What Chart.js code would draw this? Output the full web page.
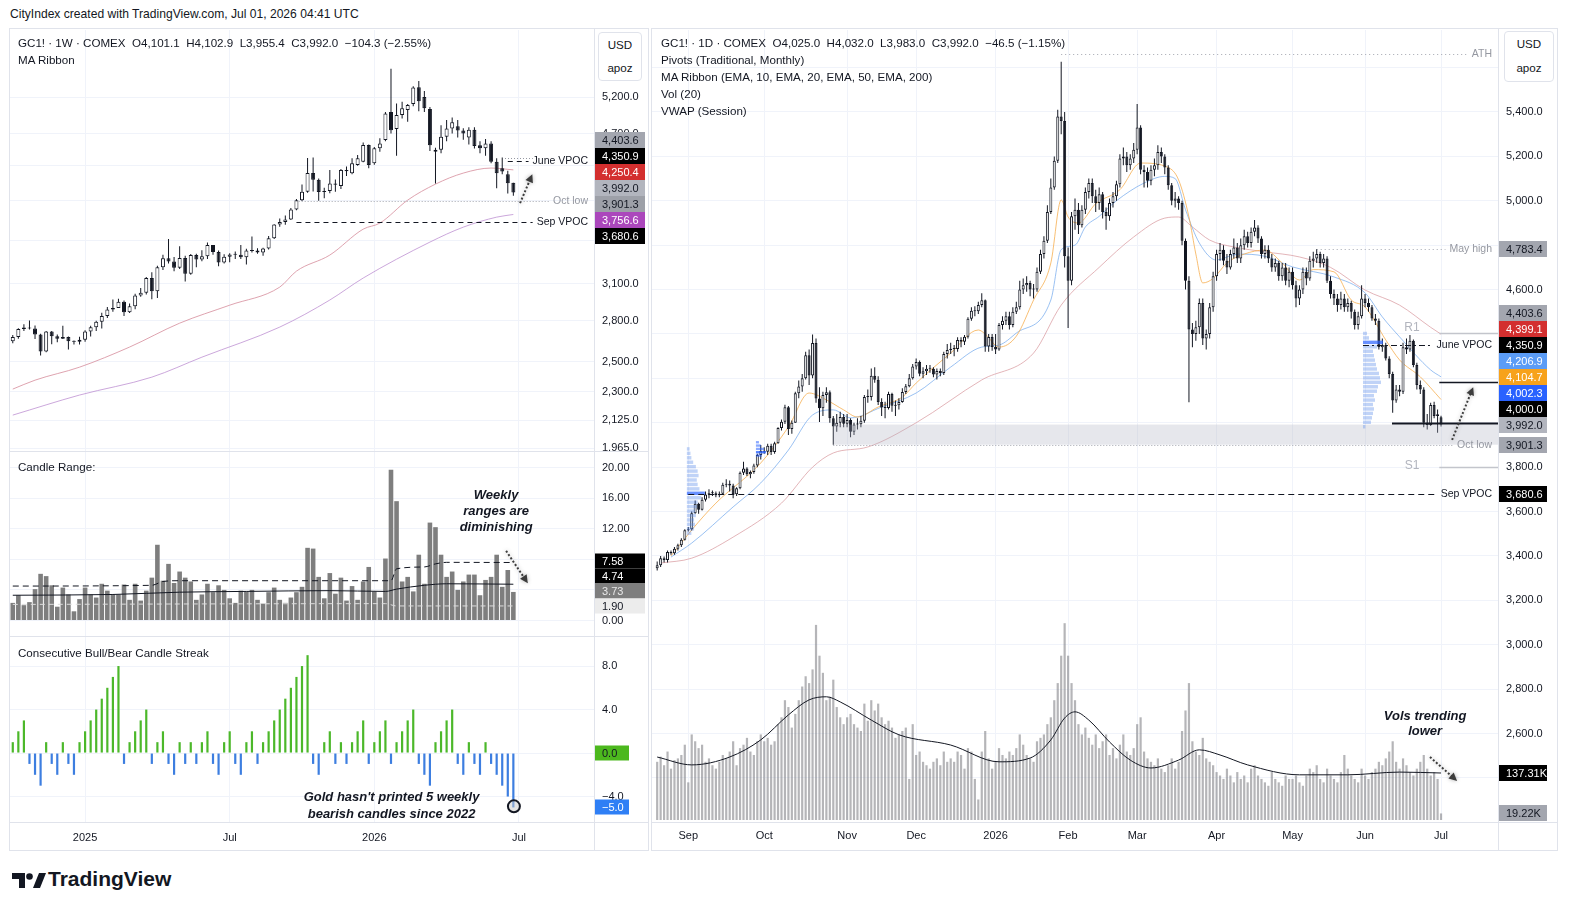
<!DOCTYPE html>
<html>
<head>
<meta charset="utf-8">
<script src="https://cdn.jsdelivr.net/npm/chart.js@4.4.1/dist/chart.umd.min.js"></script>
<style>
  body { margin:0; background:#fff; width:1569px; height:911px; overflow:hidden; position:relative;
         font-family:"Liberation Sans", Arial, sans-serif; color:#131722; }
  canvas { position:absolute; }
  .t { position:absolute; white-space:pre; font-size:11.6px; line-height:17px; }
  .ln { position:absolute; background:#e0e3eb; }
  .unit { position:absolute; border:1px solid #e0e3eb; border-radius:4px; background:#fff; font-size:11.6px;
          text-align:center; line-height:23px; box-sizing:border-box; padding-top:0px; }
</style>
</head>
<body>
<div class="t" style="left:10px;top:6px;font-size:12.1px;">CityIndex created with TradingView.com, Jul 01, 2026 04:41 UTC</div>

<canvas id="cP" width="638" height="421" style="left:10px;top:30px"></canvas>
<canvas id="cR" width="638" height="184" style="left:10px;top:452px"></canvas>
<canvas id="cS" width="638" height="211" style="left:10px;top:637px"></canvas>
<canvas id="cD" width="905" height="818" style="left:652px;top:30px"></canvas>

<!-- frames -->
<div class="ln" style="left:9px;top:28px;width:640px;height:1px"></div>
<div class="ln" style="left:9px;top:850px;width:640px;height:1px"></div>
<div class="ln" style="left:9px;top:28px;width:1px;height:823px"></div>
<div class="ln" style="left:648px;top:28px;width:1px;height:823px"></div>
<div class="ln" style="left:594px;top:28px;width:1px;height:823px"></div>
<div class="ln" style="left:9px;top:451px;width:640px;height:1px"></div>
<div class="ln" style="left:9px;top:636px;width:640px;height:1px"></div>
<div class="ln" style="left:9px;top:822px;width:640px;height:1px"></div>

<div class="ln" style="left:651px;top:28px;width:907px;height:1px"></div>
<div class="ln" style="left:651px;top:850px;width:907px;height:1px"></div>
<div class="ln" style="left:651px;top:28px;width:1px;height:823px"></div>
<div class="ln" style="left:1557px;top:28px;width:1px;height:823px"></div>
<div class="ln" style="left:1498px;top:28px;width:1px;height:823px"></div>
<div class="ln" style="left:651px;top:822px;width:907px;height:1px"></div>

<div class="unit" style="left:598px;top:32px;width:44px;height:49px;">USD<br>apoz</div>
<div class="unit" style="left:1504px;top:31px;width:50px;height:51px;line-height:24px;">USD<br>apoz</div>

<div class="t" style="left:18px;top:34px;">GC1! · 1W · COMEX  O4,101.1  H4,102.9  L3,955.4  C3,992.0  −104.3 (−2.55%)
MA Ribbon</div>
<div class="t" style="left:18px;top:458px;">Candle Range:</div>
<div class="t" style="left:18px;top:644px;">Consecutive Bull/Bear Candle Streak</div>
<div class="t" style="left:661px;top:34px;">GC1! · 1D · COMEX  O4,025.0  H4,032.0  L3,983.0  C3,992.0  −46.5 (−1.15%)
Pivots (Traditional, Monthly)
MA Ribbon (EMA, 10, EMA, 20, EMA, 50, EMA, 200)
Vol (20)
VWAP (Session)</div>

<svg style="position:absolute;left:12px;top:872px" width="34" height="17" viewBox="0 0 34 17">
  <path d="M0 1h13v15H7V7H0z" fill="#131722"/><circle cx="17.5" cy="4.5" r="3.3" fill="#131722"/>
  <path d="M21 16l6-15h7l-6 15z" fill="#131722"/>
</svg>
<div style="position:absolute;left:48px;top:867px;font-weight:bold;font-size:21px;">TradingView</div>

<script>
// ---------- weekly data (Oct 7 2024 .. Jun 29 2026) ----------
const wO = [2645,2676,2736,2746,2740,2694,2570,2716,2681,2663, 2675,2645,2640,2655,2717,2748,2790,2835,2887,2900,
  2949,2865,2914,3001,3025,3150,3037,3245,3328,3298, 3241,3330,3187,3357,3315,3346,3452,3385,3288,3342,
  3363,3359,3336,3396,3400,3380,3418,3516,3654,3680, 3705,3809,3908,4000,4213,4137,3997,4009,4094,4065,
  4250,4211,4309,4348,4553,4329,4512,4616,4990,4760, 4950,5016,5100,5345,5200,5030,4470,4495,4660,4768,
  4795,4740,4650,4750,4550,4512,4574,4348,4270,4200, 4101.1];
const wH = [2690,2742,2772,2801,2762,2700,2721,2721,2694,2760, 2680,2650,2677,2726,2760,2798,2862,2907,2968,2974,
  2960,2936,3017,3065,3160,3201,3260,3360,3509,3340, 3440,3350,3366,3370,3403,3476,3453,3400,3365,3375,
  3390,3451,3416,3534,3420,3425,3540,3656,3715,3745, 3824,3922,4081,4392,4398,4150,4045,4250,4140,4260,
  4290,4390,4430,4584,4560,4530,4640,4990,5626,5110, 5133,5100,5360,5436,5290,5060,4520,4810,4879,4913,
  4880,4770,4783,4783,4600,4630,4600,4390,4400,4240, 4102.9];
const wL = [2630,2662,2720,2731,2660,2541,2565,2622,2636,2660, 2585,2620,2620,2640,2680,2720,2740,2820,2870,2900,
  2835,2860,2890,2990,3010,2970,2980,3220,3280,3210, 3230,3120,3180,3245,3300,3320,3360,3255,3280,3290,
  3320,3320,3270,3380,3370,3350,3410,3510,3630,3650, 3700,3800,3900,3990,4004,3901.3,3930,3985,4000,4030,
  4180,4200,4300,4340,4270,4310,4470,4600,4700,4420, 4902,4856,5070,5000,4990,4480,4093,4450,4600,4700,
  4650,4620,4560,4510,4450,4420,4330,4040,4200,3980, 3955.4];
const wC = [2676,2736,2746,2740,2694,2570,2716,2681,2663,2675, 2645,2640,2655,2717,2748,2790,2835,2887,2900,2949,
  2865,2914,3001,3025,3150,3037,3245,3328,3298,3241, 3330,3187,3357,3315,3346,3452,3385,3288,3342,3363,
  3359,3336,3400,3400,3380,3418,3516,3654,3680,3705, 3809,3908,4000,4213,4137,3997,4009,4094,4080,4250,
  4235,4329,4389,4553,4309,4512,4574,4970,4745,4950, 5040,5086,5340,5140,5040,4550,4495,4660,4768,4850,
  4740,4700,4750,4540,4512,4574,4348,4211,4232,4096, 3992.0];
const wRange = [2.3,3.3,2.0,2.4,4.1,6.1,5.8,4.6,1.8,4.3, 3.4,1.2,2.8,4.3,3.4,3.0,4.8,3.9,3.4,3.4,
  4.7,2.7,4.8,2.6,3.9,5.6,9.9,5.2,7.4,4.9, 6.4,5.6,5.1,2.7,3.4,4.8,3.7,4.6,4.0,2.9,
  2.3,3.9,3.8,4.0,2.7,2.2,3.7,4.3,2.7,2.3, 3.0,3.7,4.4,9.5,9.4,5.7,2.9,6.2,3.5,5.6,
  2.6,4.5,2.7,5.1,7.0,3.8,3.0,8.1,19.7,15.6, 5.1,5.7,3.8,8.6,4.8,12.8,12.2,8.6,5.7,6.4,
  4.0,5.1,6.0,6.0,3.3,5.3,5.7,8.6,4.4,6.6, 3.73];
const wStreak = [1,2,3,-1,-2,-3,1,-1,-2,1, -1,-2,1,2,3,4,5,6,7,8,
  -1,1,2,3,4,-1,1,2,-1,-2, 1,-1,1,-1,1,2,-1,-2,1,2,
  -1,-2,1,2,-1,1,2,3,4,5, 6,7,8,9,-1,-2,1,2,-1,1,
  -1,1,2,3,-1,1,2,3,-1,1, 2,3,4,-1,-2,-3,1,2,3,4,
  -1,-2,1,-1,-2,1,-1,-2,-3,-4, -5];
// MA ribbon read at a few weeks: [week index, value]
const wMaUpper = [[0,2316],[4,2374],[12,2461],[21,2602],[30,2780],[39,2922],[48,3072],[51,3211],[57,3357],
  [63,3607],[66,3668],[71,3909],[76,4086],[81,4213],[86,4272],[90,4250.4]];
const wMaLower = [[0,2155],[12,2278],[25,2394],[34,2530],[48,2750],[57,2964],[63,3150],[75,3480],[81,3627],
  [87,3729],[90,3756.6]];
const rangeHi = [[0,4.5],[25,4.6],[27,5.1],[30,5.2],[68,5.2],[69,6.75],[74,7.0],[76,7.4],[78,7.6],[90,7.58]];
const rangeMid = [[0,3.3],[18,3.4],[30,3.7],[42,3.8],[57,3.9],[67,3.8],[69,4.1],[74,4.6],[78,4.8],[90,4.74]];
const rangeLo = [[0,2.1],[67,2.2],[69,1.9],[90,1.9]];
const weekTickIdx = [13,39,65,91];
const weekTickText = ['2025','Jul','2026','Jul'];
const leftPriceTicks = [5200,4700,4300,3900,3500,3100,2800,2500,2300,2125,1965];
const leftPriceHidden = [4300,3900,3500];

// ---------- daily data (Aug 19 2025 .. Jul 1 2026) ----------
const dO = [3345,3358,3390,3382,3418,3412,3433,3448,3473,
  3516,3520,3592,3635,3608,3653,3677,3682,3683,3673,3680,3721,3725,3717,3678,3705,3775,3794,3768,3778,3808,3855,
  3873,3870,3897,3868,3908,3976,4005,4070,3972,4000,4133,4163,4201,4304,4213,4359,4109,4065,4125,4137,4020,3983,4000,4026,
  3996,4013,3960,3992,3993,4009,4116,4116,4212,4194,4094,4069,4066,4130,4077,4079,4094,4139,4164,4200,
  4254,4274,4221,4232,4243,4243,4218,4233,4224,4310,4328,4334,4332,4373,4365,4387,4469,4505,4502,4530,4552,4344,4386,
  4341,4330,4440,4460,4480,4440,4500,4520,4600,4620,4630,4600,4600,4680,4760,4820,4950,5060,5180,5380,5360,
  4750,4640,4930,4960,4890,4960,5040,5080,5020,4990,5030,4950,4930,4990,5020,5075,5190,5200,5160,5190,
  5230,5330,5140,5130,5090,5140,5160,5220,5200,5150,5070,5000,5010,4990,4820,4640,4420,4400,4430,4540,4380,4400,4520,
  4660,4760,4780,4730,4700,4760,4790,4740,4800,4840,4810,4860,4880,4830,4760,4780,4740,4700,4720,4660,4700,4640,
  4680,4620,4560,4600,4680,4650,4730,4740,4760,4720,4740,4640,4580,4560,4530,4560,4520,4540,4500,4440,4480,
  4560,4540,4520,4470,4460,4340,4350,4290,4220,4100,4150,4140,4340,4330,4370,4260,4170,4150,4000,3990,4080,4030,
  4025];
const dH = [3375,3400,3398,3425,3425,3440,3455,3480,3520,
  3530,3600,3650,3640,3665,3690,3700,3695,3690,3690,3730,3745,3740,3725,3710,3780,3824,3800,3785,3815,3860,3900,
  3890,3905,3905,3915,3980,4015,4081,4075,4010,4140,4190,4220,4320,4330,4398,4380,4160,4140,4160,4145,4030,4040,4050,4040,
  4040,4020,4000,4020,4030,4125,4150,4245,4250,4210,4110,4095,4140,4135,4100,4110,4155,4175,4220,4265,
  4290,4280,4250,4260,4260,4250,4245,4245,4320,4355,4360,4350,4385,4385,4395,4475,4520,4525,4545,4584,4555,4400,4400,
  4400,4450,4480,4500,4500,4520,4545,4640,4650,4660,4640,4625,4700,4780,4840,4980,5100,5200,5410,5626,5400,
  4790,4950,5010,4990,4980,5060,5100,5100,5050,5060,5040,4970,5010,5040,5090,5210,5240,5220,5210,5260,
  5436,5340,5160,5150,5160,5190,5250,5240,5210,5160,5080,5040,5020,5000,4830,4660,4450,4460,4560,4560,4420,4540,4680,
  4780,4810,4800,4760,4780,4830,4810,4830,4870,4860,4880,4913,4890,4840,4800,4800,4760,4740,4730,4720,4720,4700,
  4700,4640,4620,4700,4700,4750,4770,4783,4770,4760,4750,4660,4600,4580,4590,4580,4560,4550,4510,4500,4620,
  4580,4560,4530,4490,4470,4380,4360,4300,4230,4170,4170,4360,4380,4395,4375,4270,4190,4160,4040,4090,4095,4060,
  4032];
const dL = [3335,3350,3370,3370,3405,3405,3425,3440,3470,
  3510,3515,3590,3590,3605,3645,3660,3670,3665,3665,3675,3710,3690,3660,3670,3700,3765,3760,3750,3770,3800,3835,
  3860,3855,3855,3860,3905,3965,3995,3945,3950,4000,4110,4140,4195,4170,4200,4090,4004,4030,4090,4000,3901.3,3960,3980,3980,
  3980,3935,3945,3970,3980,4000,4090,4100,4180,4080,4030,4020,4060,4050,4030,4060,4090,4130,4160,4195,
  4240,4210,4200,4215,4225,4205,4195,4210,4215,4290,4310,4300,4320,4340,4350,4380,4460,4480,4490,4520,4320,4320,4325,
  4310,4325,4420,4440,4420,4430,4490,4510,4580,4590,4570,4560,4590,4670,4740,4810,4940,5050,5170,5300,4700,
  4427,4620,4870,4850,4880,4940,5010,4990,4950,4960,4920,4870,4910,4970,5000,5060,5160,5130,5140,5170,
  5210,5120,5060,5060,5070,5110,5140,5170,5120,5050,4980,4970,4960,4800,4600,4093,4340,4370,4400,4350,4330,4380,4500,
  4640,4730,4710,4670,4690,4740,4720,4720,4780,4790,4790,4840,4810,4740,4740,4720,4680,4680,4640,4640,4620,4610,
  4600,4520,4530,4580,4620,4640,4700,4720,4700,4700,4630,4560,4530,4500,4510,4500,4500,4470,4420,4420,4470,
  4520,4500,4460,4440,4330,4320,4280,4200,4045,4090,4120,4130,4310,4320,4250,4150,4130,3980,3970,3985,4020,3955,
  3983];
const dC = [3358,3390,3382,3418,3412,3433,3448,3473,3516,
  3520,3592,3635,3608,3653,3677,3682,3683,3673,3680,3721,3725,3717,3678,3705,3775,3794,3768,3778,3808,3855,3873,
  3870,3897,3868,3908,3976,4005,4070,3972,4000,4133,4163,4201,4304,4213,4359,4109,4065,4125,4137,4020,3983,4000,4026,3996,
  4013,3960,3992,3993,4009,4116,4116,4212,4194,4094,4069,4066,4130,4077,4079,4094,4139,4164,4200,4254,
  4274,4221,4232,4243,4243,4218,4233,4224,4310,4328,4334,4332,4373,4365,4387,4469,4505,4502,4530,4552,4344,4386,4341,
  4330,4440,4460,4480,4440,4500,4520,4600,4620,4630,4600,4600,4680,4760,4820,4950,5060,5180,5380,5360,4750,
  4640,4930,4960,4890,4960,5040,5080,5020,4990,5030,4950,4930,4990,5020,5075,5190,5200,5160,5190,5230,
  5330,5140,5130,5090,5140,5160,5220,5200,5150,5070,5000,5010,4990,4820,4640,4420,4400,4430,4540,4380,4400,4520,4660,
  4760,4780,4730,4700,4760,4790,4740,4800,4840,4810,4860,4880,4830,4760,4780,4740,4700,4720,4660,4700,4640,4680,
  4620,4560,4600,4680,4650,4730,4740,4760,4720,4740,4640,4580,4560,4530,4560,4520,4540,4500,4440,4480,4560,
  4540,4520,4470,4460,4340,4350,4290,4220,4100,4150,4140,4340,4330,4370,4260,4170,4150,4000,3990,4080,4030,4038,
  3992.0];
// daily volume, thousands of contracts
const dVol = [170,185,160,200,150,175,180,190,220,
  110,250,230,210,220,170,180,160,150,170,190,180,200,230,160,210,220,240,200,190,230,250,
  230,240,220,230,280,300,350,330,270,310,350,390,420,400,440,570,480,430,350,360,410,330,300,280,
  300,310,280,270,260,340,290,350,320,340,300,280,290,270,240,250,260,270,120,280,
  190,200,170,160,150,170,180,160,200,170,180,170,200,190,150,210,200,120,60,200,260,180,150,
  170,210,190,180,200,190,210,250,220,190,180,170,230,240,250,280,300,350,400,480,575,
  480,400,350,280,250,270,240,220,250,210,230,250,190,210,180,220,250,200,190,210,
  280,300,200,180,170,160,180,150,140,160,180,150,170,260,320,400,230,200,190,240,180,170,160,
  140,130,120,150,130,110,140,120,130,110,150,160,130,120,110,100,140,120,110,100,130,120,
  120,130,110,100,130,150,140,160,120,110,150,130,120,110,140,190,150,130,120,110,150,
  130,120,140,150,170,160,180,200,230,170,150,180,160,140,130,150,170,190,150,130,140,120,
  19.22];
const dVolMa = [[0,184],[10,161],[21,184],[30,234],[38,307],[44,351],[49,360],[53,345],[62,292],[70,249],
  [85,219],[99,170],[108,181],[114,234],[118,298],[121,316],[125,292],[131,228],[137,175],[143,152],[151,175],
  [157,205],[163,190],[171,161],[186,132],[200,132],[215,140],[227,137.31]];
const dEma10 = [[4,3400],[10,3517],[17,3638],[30,3819],[38,3981],[44,4134],[49,4103],[54,4058],[58,4026],[64,4071],
  [71,4116],[75,4179],[85,4314],[93,4418],[95,4400],[99,4341],[104,4390],[109,4553],[114,4720],[117,5004],[119,4927],
  [122,4900],[127,4987],[134,5050],[140,5170],[148,5150],[151,5094],[154,4927],[156,4760],[158,4630],[161,4650],
  [165,4720],[170,4760],[176,4778],[181,4720],[186,4643],[190,4690],[196,4680],[201,4553],[205,4522],[211,4373],
  [215,4283],[221,4207],[227,4104.7]];
const dEma20 = [[4,3395],[10,3458],[22,3621],[30,3729],[38,3877],[45,4035],[51,4058],[56,4022],[65,4071],[75,4134],
  [85,4251],[94,4341],[99,4350],[104,4404],[114,4553],[117,4780],[121,4800],[124,4882],[128,4930],[133,5000],
  [141,5080],[147,5110],[150,5100],[153,4960],[157,4810],[162,4733],[168,4760],[176,4750],[184,4702],[196,4657],
  [205,4585],[210,4477],[215,4387],[224,4238],[227,4206.9]];
const dEma50 = [[1,3368],[10,3390],[22,3485],[36,3638],[45,3800],[51,3864],[61,3891],[75,4000],[94,4193],[109,4314],
  [117,4530],[128,4700],[138,4837],[147,4922],[151,4927],[155,4882],[160,4823],[167,4792],[176,4770],[186,4747],
  [195,4700],[205,4598],[215,4530],[224,4430],[227,4399.1]];
// fixed range volume profiles
const sepProfPrice = [3500,3520,3540,3560,3580,3600,3620,3640,3660,3680,3700,3720,3740,3760,3780,3800,3820,3840,3860,3880];
const sepProfVol = [25,40,45,40,50,45,55,60,80,100,70,60,55,65,60,50,35,25,20,15];
const octProfPrice = [3850,3865,3880,3895,3910];
const octProfVol = [60,100,80,50,30];
const junProfPrice = [3980,4000,4020,4040,4060,4080,4100,4120,4140,4160,4180,4200,4220,4240,4260,4280,4300,4320,4340,4360,4380,4400];
const junProfVol = [12,40,45,50,55,50,60,55,70,75,90,85,80,70,65,60,55,50,70,100,30,20];
const dayTickIdx = [9,31,55,75,98,119,139,162,184,205,227];
const dayTickText = ['Sep','Oct','Nov','Dec','2026','Feb','Mar','Apr','May','Jun','Jul'];
const rightPriceTicks = [5600,5400,5200,5000,4800,4600,4400,4200,4000,3800,3600,3400,3200,3000,2800,2600,2400];
const rightPriceHidden = [5600,4800,4400,4200,4000,2400];

// ---------- helpers ----------
const FONT = '"Liberation Sans", Arial, sans-serif';
const TXT = '#131722', GRID = '#f0f3fa', GREYTXT = '#9598a1';

function fmt(v, d) {
  return v.toLocaleString('en-US', { minimumFractionDigits: d, maximumFractionDigits: d }).replace('-', '\u2212');
}
function pts(list) { return list.map(p => ({ x: p[0], y: p[1] })); }

function yScale(o) {
  return {
    type: o.type || 'linear', position: 'right', min: o.min, max: o.max,
    grid: { color: GRID, drawTicks: false }, border: { display: false },
    afterBuildTicks: s => { s.ticks = o.ticks.map(v => ({ value: v })); },
    ticks: { autoSkip: false, padding: 8, color: TXT, font: { family: FONT, size: 11 },
      callback: v => (o.hidden || []).includes(v) ? '' : fmt(v, o.dec) },
    afterFit: s => { s.width = o.w; s.paddingTop = 0; s.paddingBottom = 0; }
  };
}
function xScale(o) {
  return {
    type: 'linear', min: o.min, max: o.max, offset: false,
    grid: { color: GRID, drawTicks: false, offset: false }, border: { display: false },
    afterBuildTicks: s => { s.ticks = o.ticks.map(v => ({ value: v })); },
    ticks: { display: !!o.show, autoSkip: false, maxRotation: 0, padding: 9, color: TXT,
      font: { family: FONT, size: 11 }, callback: v => o.text[o.ticks.indexOf(v)] },
    afterFit: s => { s.height = o.show ? o.h : 0; s.paddingLeft = 0; s.paddingRight = 0; }
  };
}
function candleSets(O, H, L, C, bodyW) {
  return [
    { type: 'bar', order: 1, grouped: false, barThickness: bodyW, minBarLength: 1, borderWidth: 1,
      borderSkipped: false, borderColor: TXT, inflateAmount: 0,
      backgroundColor: O.map((o, i) => C[i] >= o ? '#ffffff' : TXT),
      data: O.map((o, i) => ({ x: i, y: [o, C[i]] })) },
    { type: 'bar', order: 2, grouped: false, barThickness: 1, backgroundColor: TXT, inflateAmount: 0,
      data: O.map((o, i) => ({ x: i, y: [L[i], H[i]] })) }
  ];
}
function lineSet(list, color, extra) {
  return Object.assign({ type: 'line', order: 3, data: pts(list), borderColor: color, borderWidth: 1,
    pointRadius: 0, tension: 0.4, cubicInterpolationMode: 'monotone', fill: false }, extra || {});
}
function baseOptions(scales, extra) {
  return Object.assign({ responsive: false, animation: false, devicePixelRatio: 1, events: [],
    layout: { padding: 0 }, plugins: { legend: { display: false }, tooltip: { enabled: false } }, scales }, extra || {});
}

function drawArrow(ctx, x0, y0, x1, y1) {
  ctx.save();
  ctx.strokeStyle = '#3c3c3c'; ctx.fillStyle = '#3c3c3c'; ctx.lineWidth = 2;
  ctx.shadowColor = 'rgba(0,0,0,0.3)'; ctx.shadowBlur = 4;
  ctx.setLineDash([2, 2]);
  ctx.beginPath(); ctx.moveTo(x0, y0); ctx.lineTo(x1, y1); ctx.stroke();
  ctx.setLineDash([]);
  const a = Math.atan2(y1 - y0, x1 - x0), c = Math.cos(a), s = Math.sin(a);
  ctx.beginPath();
  ctx.moveTo(x1 + 3 * c, y1 + 3 * s);
  ctx.lineTo(x1 - 5 * c + 4 * s, y1 - 5 * s - 4 * c);
  ctx.lineTo(x1 - 5 * c - 4 * s, y1 - 5 * s + 4 * c);
  ctx.closePath(); ctx.fill();
  ctx.restore();
}

// annotation plugin: everything positioned through the chart scales
function marks(cfg) {
  return {
    id: 'marks',
    afterDatasetsDraw(chart) {
      const ctx = chart.ctx, a = chart.chartArea, xs = chart.scales.x;
      const Y = (v, id) => chart.scales[id || 'y'].getPixelForValue(v);
      const X = v => v === 'R' ? a.right : xs.getPixelForValue(v);
      ctx.save();
      ctx.beginPath(); ctx.rect(a.left, a.top, a.right - a.left, a.bottom - a.top); ctx.clip();
      (cfg.rects || []).forEach(r => {
        const y0 = Y(r.y0), y1 = Y(r.y1);
        ctx.fillStyle = r.color;
        ctx.fillRect(X(r.x0), Math.min(y0, y1), X(r.x1) - X(r.x0), Math.abs(y1 - y0));
      });
      (cfg.profiles || []).forEach(p => {
        const max = Math.max(...p.vol);
        p.price.forEach((pr, i) => {
          const y0 = Y(pr + p.step / 2), y1 = Y(pr - p.step / 2);
          ctx.fillStyle = p.vol[i] === max ? p.poc : p.color;
          ctx.fillRect(X(p.x0), y0, p.vol[i] / max * p.maxW, Math.max(1, y1 - y0 - 1));
        });
      });
      (cfg.lines || []).forEach(l => {
        const y = Math.round(Y(l.y, l.axis)) + 0.5;
        let xEnd = X(l.x1);
        ctx.font = '10.5px ' + FONT;
        if (l.label) {
          const w = ctx.measureText(l.label).width, tx = a.right - 6;
          xEnd = Math.min(xEnd, tx - w - 4);
          ctx.fillStyle = l.labelColor || l.color; ctx.textAlign = 'right'; ctx.textBaseline = 'middle';
          ctx.fillText(l.label, tx, y);
        }
        ctx.strokeStyle = l.color; ctx.lineWidth = l.width || 1; ctx.setLineDash(l.dash || []);
        ctx.beginPath(); ctx.moveTo(X(l.x0), y); ctx.lineTo(xEnd, y); ctx.stroke();
        ctx.setLineDash([]);
      });
      (cfg.texts || []).forEach(t => {
        ctx.font = t.font || ('12px ' + FONT); ctx.fillStyle = t.color || TXT;
        ctx.textAlign = t.align || 'center'; ctx.textBaseline = 'middle';
        ctx.fillText(t.text, X(t.x), Y(t.y, t.axis));
      });
      (cfg.circles || []).forEach(c => {
        ctx.beginPath(); ctx.arc(X(c.x), Y(c.y, c.axis), c.r, 0, Math.PI * 2);
        ctx.fillStyle = 'rgba(200,200,200,0.5)'; ctx.fill();
        ctx.lineWidth = 2; ctx.strokeStyle = TXT; ctx.stroke();
      });
      (cfg.arrows || []).forEach(r => drawArrow(ctx, X(r.x0), Y(r.y0, r.axis), X(r.x1), Y(r.y1, r.axis)));
      ctx.restore();
    },
    afterDraw(chart) {
      const ctx = chart.ctx, a = chart.chartArea;
      (cfg.tags || []).forEach(g => {
        const sc = chart.scales[g.axis || 'y'];
        const items = g.items.map(t => Object.assign({}, t, { py: sc.getPixelForValue(t.v) }));
        items.sort((p, q) => p.py - q.py);
        if (g.mode === 'up') {
          for (let i = items.length - 2; i >= 0; i--) items[i].py = Math.min(items[i].py, items[i + 1].py - g.h);
        } else {
          for (let it = 0; it < 200; it++) {
            for (let i = 0; i < items.length - 1; i++) {
              const gap = items[i + 1].py - items[i].py;
              if (gap < g.h) { const d = (g.h - gap) / 2; items[i].py -= d; items[i + 1].py += d; }
            }
          }
        }
        items.forEach(t => {
          const y = Math.round(t.py);
          ctx.fillStyle = t.bg;
          ctx.fillRect(a.right + 1, y - g.h / 2, g.w, g.h);
          ctx.fillStyle = t.fg; ctx.font = '11px ' + FONT; ctx.textAlign = 'left'; ctx.textBaseline = 'middle';
          ctx.fillText(t.text || fmt(t.v, g.dec), a.right + 8, y + 0.5);
        });
      });
    }
  };
}

const weekX = show => xScale({ min: -0.5, max: 104.5, ticks: weekTickIdx, text: weekTickText, show, h: 26 });

// ---------- left: weekly price ----------
new Chart(document.getElementById('cP'), {
  type: 'bar',
  data: { datasets: [
    ...candleSets(wO, wH, wL, wC, 4),
    lineSet(wMaUpper, 'rgba(214,140,155,0.8)'),
    lineSet(wMaLower, 'rgba(190,145,210,0.8)')
  ] },
  options: baseOptions({
    x: weekX(false),
    y: yScale({ type: 'logarithmic', min: 1951, max: 6262, ticks: leftPriceTicks, hidden: leftPriceHidden, dec: 1, w: 54 })
  }),
  plugins: [marks({
    lines: [
      { x0: 88.5, x1: 93.5, y: 4395, color: '#9598a1', dash: [1, 2] },
      { x0: 89, x1: 'R', y: 4350.9, color: TXT, dash: [5, 4], label: 'June VPOC' },
      { x0: 51.4, x1: 'R', y: 3901.3, color: '#a3a6af', dash: [1, 2], label: 'Oct low', labelColor: GREYTXT },
      { x0: 51, x1: 'R', y: 3680.6, color: TXT, dash: [5, 4], label: 'Sep VPOC' }
    ],
    arrows: [{ x0: 91.2, y0: 3876, x1: 93.2, y1: 4167 }],
    tags: [{ axis: 'y', mode: 'center', h: 16, w: 50, dec: 1, items: [
      { v: 4403.6, bg: '#a3a6af', fg: TXT }, { v: 4350.9, bg: '#000000', fg: '#ffffff' },
      { v: 4250.4, bg: '#d32f2f', fg: '#ffffff' }, { v: 3992.0, bg: '#b2b5be', fg: TXT },
      { v: 3901.3, bg: '#9da0a8', fg: TXT }, { v: 3756.6, bg: '#ab47bc', fg: '#ffffff' },
      { v: 3680.6, bg: '#000000', fg: '#ffffff' } ] }]
  })]
});

// ---------- left: candle range ----------
new Chart(document.getElementById('cR'), {
  type: 'bar',
  data: { datasets: [
    lineSet(rangeHi, TXT, { order: 1, borderDash: [6, 4], tension: 0 }),
    lineSet(rangeMid, TXT, { order: 1, tension: 0 }),
    lineSet(rangeLo, '#dcdcdc', { order: 1, borderDash: [5, 4], tension: 0 }),
    { type: 'bar', order: 2, barThickness: 4.6, backgroundColor: '#7e7e7e', inflateAmount: 0,
      data: wRange.map((v, i) => ({ x: i, y: v })) }
  ] },
  options: baseOptions({
    x: weekX(false),
    y: yScale({ min: -2.03, max: 22.03, ticks: [0, 4, 8, 12, 16, 20], dec: 2, w: 54 })
  }),
  plugins: [marks({
    texts: [
      { x: 86.9, y: 16.3, text: 'Weekly', font: 'italic bold 13px ' + FONT },
      { x: 86.9, y: 14.2, text: 'ranges are', font: 'italic bold 13px ' + FONT },
      { x: 86.9, y: 12.2, text: 'diminishing', font: 'italic bold 13px ' + FONT }
    ],
    arrows: [{ x0: 88.7, y0: 9.1, x1: 92.3, y1: 5.2 }],
    tags: [{ axis: 'y', mode: 'up', h: 15, w: 50, dec: 2, items: [
      { v: 7.58, bg: '#000000', fg: '#ffffff' }, { v: 4.74, bg: '#000000', fg: '#ffffff' },
      { v: 3.73, bg: '#7e7e7e', fg: '#e8e8e8' }, { v: 1.90, bg: '#ececec', fg: TXT } ] }]
  })]
});

// ---------- left: bull/bear streak ----------
new Chart(document.getElementById('cS'), {
  type: 'bar',
  data: { datasets: [
    { type: 'bar', barThickness: 2.2, inflateAmount: 0,
      backgroundColor: wStreak.map(v => v > 0 ? '#4cb82a' : '#3d7ee0'),
      data: wStreak.map((v, i) => ({ x: i, y: v })) }
  ] },
  options: baseOptions({
    x: weekX(true),
    y: yScale({ min: -6.34, max: 10.67, ticks: [-4, 0, 4, 8], dec: 1, w: 54 })
  }),
  plugins: [marks({
    texts: [
      { x: 68.1, y: -4.1, text: "Gold hasn't printed 5 weekly", font: 'italic bold 13px ' + FONT },
      { x: 68.1, y: -5.6, text: 'bearish candles since 2022', font: 'italic bold 13px ' + FONT }
    ],
    circles: [{ x: 90.1, y: -4.9, r: 6 }],
    tags: [{ axis: 'y', mode: 'up', h: 15, w: 34, dec: 1, items: [
      { v: 0, bg: '#4cb81e', fg: TXT, text: '0.0' }, { v: -5, bg: '#2f7ff5', fg: '#ffffff', text: '\u22125.0' } ] }]
  })]
});

// ---------- right: daily price + volume ----------
new Chart(document.getElementById('cD'), {
  type: 'bar',
  data: { datasets: [
    ...candleSets(dO, dH, dL, dC, 3),
    lineSet(dEma10, 'rgba(245,170,70,0.75)'),
    lineSet(dEma20, 'rgba(100,160,235,0.65)'),
    lineSet(dEma50, 'rgba(215,150,155,0.7)'),
    lineSet(dVolMa, TXT, { yAxisID: 'yv', order: 4 }),
    { type: 'bar', order: 5, yAxisID: 'yv', barThickness: 2.2, backgroundColor: 'rgba(120,120,125,0.55)',
      inflateAmount: 0, data: dVol.map((v, i) => ({ x: i, y: v })) }
  ] },
  options: baseOptions({
    x: xScale({ min: -1.5, max: 243.5, ticks: dayTickIdx, text: dayTickText, show: true, h: 28 }),
    y: yScale({ min: 2210.5, max: 5769.4, ticks: rightPriceTicks, hidden: rightPriceHidden, dec: 1, w: 59 }),
    yv: { type: 'linear', display: false, min: 0, max: 2308 }
  }),
  plugins: [marks({
    rects: [{ x0: 51, x1: 'R', y0: 3901.3, y1: 3992, color: 'rgba(178,181,196,0.32)' }],
    profiles: [
      { x0: 8.6, price: sepProfPrice, vol: sepProfVol, step: 20, maxW: 18, color: 'rgba(90,140,235,0.38)', poc: 'rgba(41,98,255,0.7)' },
      { x0: 28.6, price: octProfPrice, vol: octProfVol, step: 15, maxW: 10, color: 'rgba(41,98,255,0.55)', poc: 'rgba(41,98,255,0.8)' },
      { x0: 204.4, price: junProfPrice, vol: junProfVol, step: 20, maxW: 20, color: 'rgba(90,140,235,0.38)', poc: 'rgba(41,98,255,0.7)' }
    ],
    lines: [
      { x0: 117, x1: 'R', y: 5660, color: '#a3a6af', dash: [1, 3], label: 'ATH', labelColor: GREYTXT },
      { x0: 191, x1: 'R', y: 4783.4, color: '#a3a6af', dash: [1, 3], label: 'May high', labelColor: GREYTXT },
      { x0: 51, x1: 'R', y: 3901.3, color: '#a3a6af', dash: [1, 2], label: 'Oct low', labelColor: GREYTXT },
      { x0: 204.4, x1: 'R', y: 4350.9, color: TXT, dash: [6, 3, 2, 3], label: 'June VPOC' },
      { x0: 9, x1: 'R', y: 3680.6, color: TXT, dash: [6, 4], label: 'Sep VPOC' },
      { x0: 226.5, x1: 'R', y: 4403.6, color: '#c3c5cc', width: 1.5 },
      { x0: 226.5, x1: 'R', y: 3800, color: '#c3c5cc', width: 1.5 },
      { x0: 212.8, x1: 'R', y: 4000, color: TXT, width: 2 },
      { x0: 226.5, x1: 'R', y: 4183, color: TXT, width: 1.5 }
    ],
    texts: [
      { x: 218.6, y: 4427, text: 'R1', color: '#b2b5be' },
      { x: 218.6, y: 3805, text: 'S1', color: '#b2b5be' },
      { x: 222.4, y: 304, axis: 'yv', text: 'Vols trending', font: 'italic bold 13px ' + FONT },
      { x: 222.4, y: 260, axis: 'yv', text: 'lower', font: 'italic bold 13px ' + FONT }
    ],
    arrows: [
      { x0: 230.2, y0: 3923, x1: 236.0, y1: 4148 },
      { x0: 223.8, y0: 184, x1: 231.0, y1: 120, axis: 'yv' }
    ],
    tags: [
      { axis: 'y', mode: 'up', h: 16, w: 48, dec: 1, items: [
        { v: 4783.4, bg: '#a3a6af', fg: TXT }, { v: 4403.6, bg: '#a3a6af', fg: TXT },
        { v: 4399.1, bg: '#d32f2f', fg: '#ffffff' }, { v: 4350.9, bg: '#000000', fg: '#ffffff' },
        { v: 4206.9, bg: '#5b9cf6', fg: '#ffffff' }, { v: 4104.7, bg: '#f7a21b', fg: '#ffffff' },
        { v: 4002.3, bg: '#2962ff', fg: '#ffffff' }, { v: 4000.0, bg: '#000000', fg: '#ffffff' },
        { v: 3992.0, bg: '#b2b5be', fg: TXT }, { v: 3901.3, bg: '#a3a6af', fg: TXT },
        { v: 3680.6, bg: '#000000', fg: '#ffffff' } ] },
      { axis: 'yv', mode: 'up', h: 16, w: 48, items: [
        { v: 137.31, bg: '#000000', fg: '#ffffff', text: '137.31K' },
        { v: 19.22, bg: '#a3a6af', fg: TXT, text: '19.22K' } ] }
    ]
  })]
});
</script>
</body>
</html>
